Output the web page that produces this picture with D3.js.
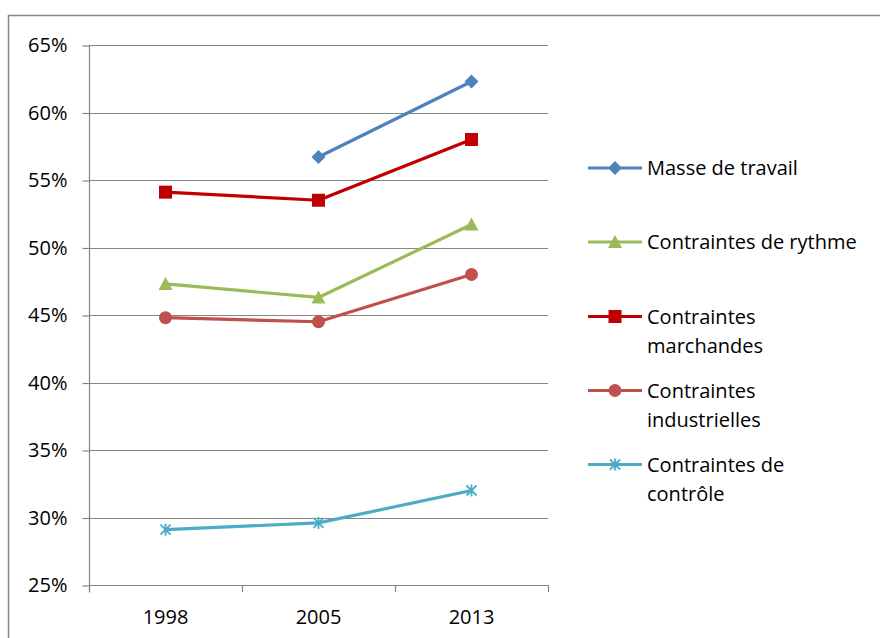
<!DOCTYPE html>
<html><head><meta charset="utf-8">
<script src="https://cdn.jsdelivr.net/npm/d3@7"></script>
<style>body{margin:0;background:#fff}svg{display:block}text{font-family:"Open Sans",Lato,sans-serif;fill:#000}</style>
</head><body><svg id="c" width="880" height="638"></svg>
<script>
const categories = ["1998","2005","2013"];
const seriesNames = ["Masse de travail","Contraintes de rythme","Contraintes marchandes","Contraintes industrielles","Contraintes de contrôle"];
const masse = [null, 0.567, 0.623];
const rythme = [0.473, 0.463, 0.517];
const marchandes = [0.541, 0.535, 0.580];
const industrielles = [0.448, 0.445, 0.480];
const controle = [0.291, 0.296, 0.320];
const yTicks = [0.25,0.30,0.35,0.40,0.45,0.50,0.55,0.60,0.65];
const colors = ["#4F81BD","#9BBB59","#C00000","#C0504D","#4BACC6"];
const symbols = ["diamond","triangle","square","circle","star"];
const legendLines = [["Masse de travail"],["Contraintes de rythme"],["Contraintes","marchandes"],["Contraintes","industrielles"],["Contraintes de","contrôle"]];

(function(){
const data = [masse, rythme, marchandes, industrielles, controle];
const drawOrder = [0,2,1,3,4];
const FS = "20px";

const svg = d3.select("#c");
svg.append("rect").attr("x",8.5).attr("y",15.5).attr("width",900).attr("height",700)
  .attr("fill","#fff").attr("stroke","#868686").attr("stroke-width",1.5);

const pL=89, pR=548, pT=45, pB=585;
const x = d3.scaleBand().domain(categories).range([pL,pR]);
const y = d3.scaleLinear().domain([0.25,0.65]).range([pB,pT]);

svg.append("g").selectAll("line").data(yTicks).join("line")
  .attr("x1",pL).attr("x2",pR).attr("y1",d=>Math.round(y(d))+0.5).attr("y2",d=>Math.round(y(d))+0.5)
  .attr("stroke","#868686").attr("stroke-width",1.2);

const yAxis = d3.axisLeft(y).tickValues(yTicks).tickSize(7).tickPadding(15).tickFormat(d3.format(".0%"));
const ya = svg.append("g").attr("transform",`translate(${pL+0.5},0.5)`).call(yAxis);
ya.select(".domain").attr("stroke","#868686").attr("stroke-width",1.2).attr("d",`M0,${pT-0.5}V${pB+7}`);
ya.selectAll(".tick line").attr("stroke","#868686").attr("stroke-width",1.2);
ya.selectAll("text").style("font-size",FS).attr("fill","#000").attr("font-family","Open Sans");

const xa = svg.append("g").attr("transform",`translate(0,${pB+0.5})`).call(d3.axisBottom(x).tickSize(0).tickPadding(24));
xa.select(".domain").remove();
xa.selectAll("text").style("font-size",FS).attr("fill","#000").attr("font-family","Open Sans");
const bounds = [pL, ...categories.map(c=>x(c)+x.bandwidth())];
svg.append("g").selectAll("line").data(bounds).join("line")
  .attr("x1",d=>Math.round(d)+0.5).attr("x2",d=>Math.round(d)+0.5).attr("y1",pB).attr("y2",pB+7)
  .attr("stroke","#868686").attr("stroke-width",1.2);
svg.append("line").attr("x1",pL).attr("x2",pR+0.5).attr("y1",pB+0.5).attr("y2",pB+0.5).attr("stroke","#868686").attr("stroke-width",1.2);

function marker(sel, i, cx, cy){
  const c = colors[i];
  if(symbols[i]==="diamond"){
    sel.append("path").attr("d",`M${cx},${cy-7}L${cx+7},${cy}L${cx},${cy+7}L${cx-7},${cy}Z`).attr("fill",c);
  } else if(symbols[i]==="triangle"){
    sel.append("path").attr("d",`M${cx},${cy-7}L${cx+7},${cy+6}L${cx-7},${cy+6}Z`).attr("fill",c);
  } else if(symbols[i]==="square"){
    sel.append("rect").attr("x",cx-6.5).attr("y",cy-6.5).attr("width",13).attr("height",13).attr("fill",c);
  } else if(symbols[i]==="circle"){
    sel.append("circle").attr("cx",cx).attr("cy",cy).attr("r",6.5).attr("fill",c);
  } else {
    const s=5;
    sel.append("path").attr("d",`M${cx-s},${cy-s}L${cx+s},${cy+s}M${cx-s},${cy+s}L${cx+s},${cy-s}M${cx},${cy-s-1}V${cy+s+1}`)
      .attr("stroke",c).attr("stroke-width",1.8).attr("fill","none");
  }
}

const line = d3.line().defined(d=>d.v!=null).x(d=>x(d.c)+x.bandwidth()/2).y(d=>y(d.v));
drawOrder.forEach(i=>{
  const pts = categories.map((c,j)=>({c, v:data[i][j]}));
  const sg = svg.append("g");
  sg.append("path").datum(pts).attr("d",line).attr("fill","none").attr("stroke",colors[i])
    .attr("stroke-width",3.2).attr("stroke-linejoin","round");
  pts.filter(p=>p.v!=null).forEach(p=>marker(sg,i,x(p.c)+x.bandwidth()/2,y(p.v)));
});

const legY = [168,242,316.5,390.5,464.5];
legendLines.forEach((lines,i)=>{
  const lg = svg.append("g");
  lg.append("line").attr("x1",588).attr("x2",642).attr("y1",legY[i]).attr("y2",legY[i])
    .attr("stroke",colors[i]).attr("stroke-width",3.2);
  marker(lg,i,615,legY[i]);
  lines.forEach((t,k)=>{
    lg.append("text").attr("x",647).attr("y",legY[i]+7+k*29).style("font-size",FS).text(t);
  });
});
})();
</script></body></html>
